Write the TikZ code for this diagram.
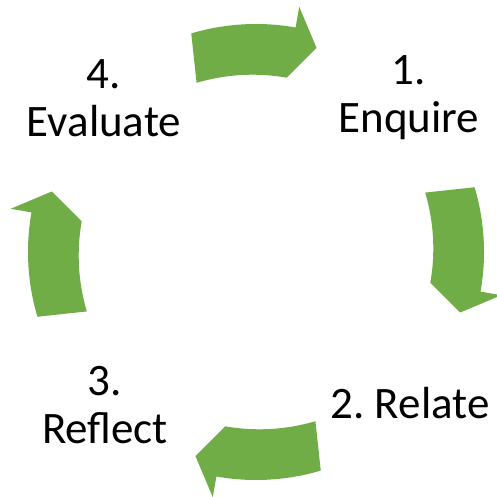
\documentclass[tikz,border=0pt]{standalone}
\usepackage{fontspec}
\setmainfont{Carlito}
\frenchspacing
\definecolor{cyclegreen}{RGB}{112,173,71}
\tikzset{
  cyclearrow/.style={fill=cyclegreen, draw=none},
  steplabel/.style={align=center, inner sep=0pt, font=\fontsize{45}{48}\selectfont, anchor=base}
}
% #1 = axis angle of the arrow (clockwise arrow)
\newcommand{\cyclearrowat}[1]{%
  \fill[cyclearrow, shift={(256pt,244pt)}]
    ({#1+16.5}:228pt) arc[start angle={#1+16.5}, end angle={#1-10}, radius=228pt]
    -- ({#1-10}:249pt) -- ({#1-16.5}:213pt) -- ({#1-10}:177pt)
    arc[start angle={#1-10}, end angle={#1+16.5}, radius=197pt] -- cycle;
}
\begin{document}
\begin{tikzpicture}[x=1pt,y=1pt]
\useasboundingbox[fill=white] (0,0) rectangle (497,496);
\cyclearrowat{90}
\cyclearrowat{0}
\cyclearrowat{270}
\cyclearrowat{180}
\node[steplabel] (enquire) at (409,363) {1.\\Enquire};
\node[steplabel] (relate) at (410,78) {2. Relate};
\node[steplabel] (reflect) at (105,53) {3.\\Reflect};
\node[steplabel] (evaluate) at (104,359) {4.\\Evaluate};
\end{tikzpicture}
\end{document}
